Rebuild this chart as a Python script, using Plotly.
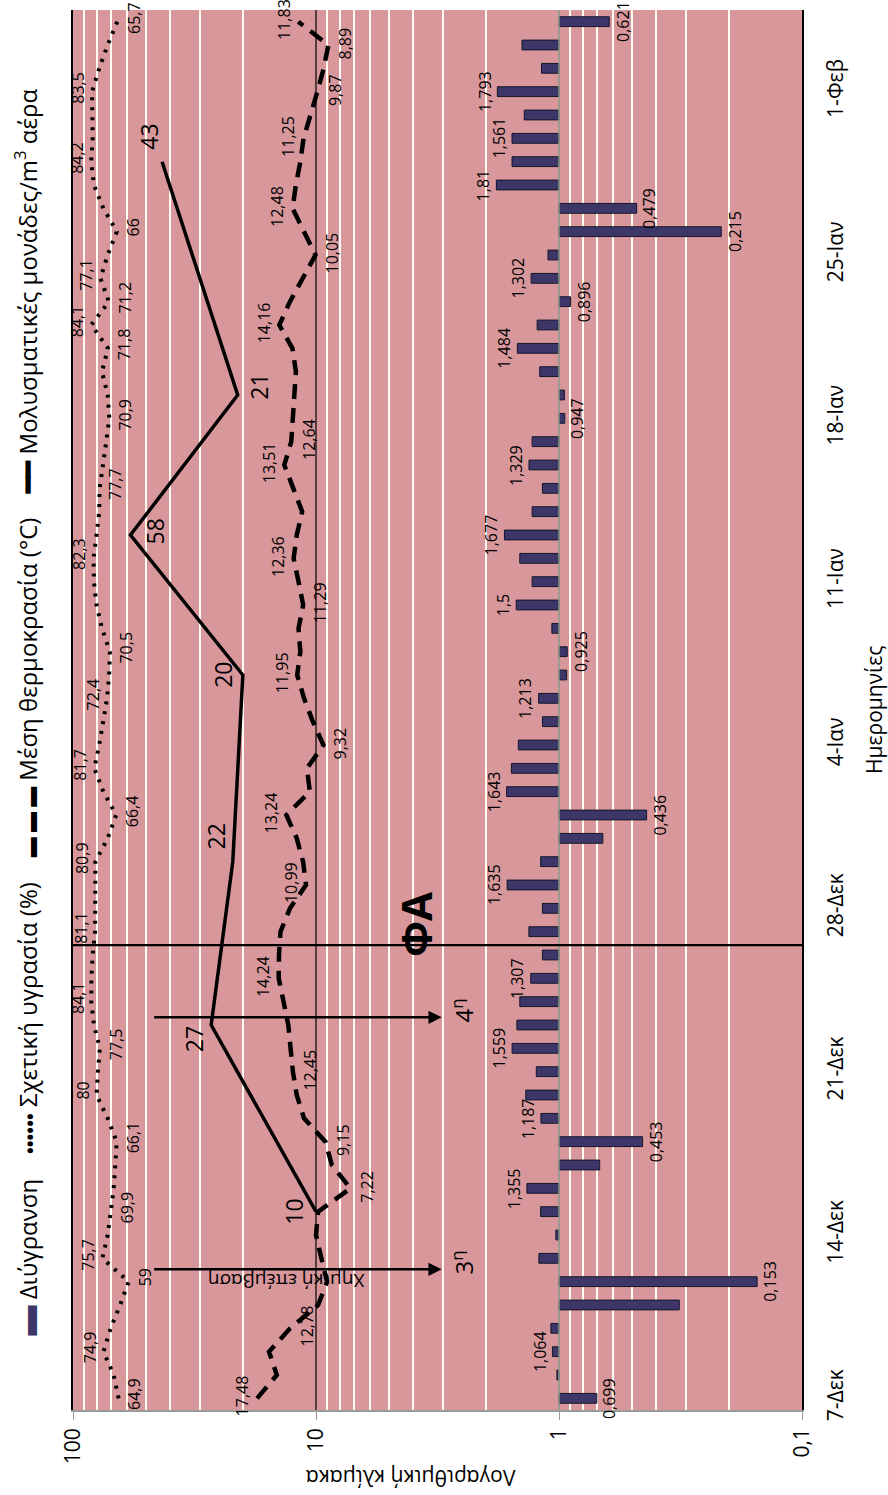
import math
import plotly.graph_objects as go

# ---- data (day index 0 = 7 Dec) -------------------------------------------
days = list(range(60))
date_tick_days = [0, 7, 14, 21, 28, 35, 42, 49, 56]
date_tick_labels = ["7-Δεκ", "14-Δεκ", "21-Δεκ", "28-Δεκ", "4-Ιαν",
                    "11-Ιαν", "18-Ιαν", "25-Ιαν", "1-Φεβ"]

value_ticks = [100, 10, 1, 0.1]
value_tick_labels = ["100", "10", "1", "0,1"]

# Διύγρανση (daily bars, drawn from a base of 1)
dehumidification = [
    0.699, 1.02, 1.064, 1.08, 0.32, 0.153, 1.21, 1.03, 1.19, 1.355,
    0.68, 0.453, 1.187, 1.37, 1.24, 1.559, 1.49, 1.45, 1.307, 1.17,
    1.33, 1.17, 1.635, 1.19, 0.66, 0.436, 1.643, 1.57, 1.47, 1.17,
    1.213, 0.93, 0.925, 1.07, 1.5, 1.29, 1.45, 1.677, 1.29, 1.17,
    1.329, 1.29, 0.947, 0.95, 1.2, 1.484, 1.23, 0.896, 1.302, 1.11,
    0.215, 0.479, 1.81, 1.56, 1.561, 1.39, 1.793, 1.18, 1.42, 0.621,
]

# Σχετική υγρασία (%)
humidity = [
    64.9, 68, 74.9, 70, 64, 59, 75.7, 72, 69.9, 68,
    67, 66.1, 72, 80, 79, 77.5, 82, 84.1, 84, 83,
    81.1, 81, 80.5, 80.9, 72, 66.4, 75, 81.7, 78, 75,
    72.4, 71, 70.5, 76, 80, 82, 82.3, 80, 78, 77.7,
    75, 73, 70.9, 72, 76, 71.8, 84.1, 71.2, 77.1, 72,
    66, 75, 82, 84.2, 83, 83, 83.5, 78, 72, 65.7,
]

# Μέση θερμοκρασία (°C)
temperature = [
    17.48, 14.5, 15.6, 12.78, 9.8, 9.0, 9.5, 10.0, 9.8, 7.22,
    8.6, 9.15, 11.2, 12.0, 12.45, 12.7, 13.0, 13.6, 14.24, 14.2,
    14.0, 12.8, 10.99, 11.3, 12.0, 13.24, 10.6, 10.9, 9.32, 10.3,
    11.2, 11.95, 11.6, 11.8, 11.29, 11.8, 12.36, 12.0, 11.4, 12.4,
    13.51, 12.64, 12.5, 12.3, 12.1, 12.5, 14.16, 12.8, 11.3, 10.05,
    11.2, 12.48, 12.1, 11.6, 11.25, 10.5, 9.87, 9.3, 8.89, 11.83,
]

# Μολυσματικές μονάδες/m3 αέρα (sampling days only)
infection_days = [8, 16, 23, 31, 37, 43, 53]
infection_units = [10, 27, 22, 20, 58, 21, 43]

# which points carry a value label, and on which side of the line
bar_label_days = [0, 2, 5, 9, 11, 12, 15, 18, 22, 25, 26, 30, 32, 34, 37,
                  40, 42, 45, 47, 48, 50, 51, 52, 54, 56, 59]
humidity_label_side = {0: "R", 2: "L", 5: "R", 6: "L", 8: "R", 11: "R",
                       13: "L", 15: "R", 17: "L", 20: "L", 23: "L", 25: "R",
                       27: "L", 30: "L", 32: "R", 36: "L", 39: "R", 42: "R",
                       45: "R", 46: "L", 47: "R", 48: "L", 50: "R", 53: "L",
                       56: "L", 59: "R"}
temperature_label_side = {0: "L", 3: "R", 9: "R", 11: "R", 14: "R", 18: "L",
                          22: "L", 25: "L", 28: "R", 31: "L", 34: "R",
                          36: "L", 40: "L", 41: "R", 46: "L", 49: "R",
                          51: "L", 54: "L", 56: "R", 58: "R", 59: "L"}
# pixel offsets (x, y) of the infection labels
infection_label_offset = {8: (-22, 0), 16: (-17, -14), 23: (-17, 25),
                          31: (-20, 0), 37: (25, 4), 43: (21, 8), 53: (-13, 25)}

# event markers (day positions)
treatment_days = [5.53, 16.33]
treatment_labels = ["3<sup>η</sup>", "4<sup>η</sup>"]
phase_day = 19.42

# ---- style -------------------------------------------------------------------
FONT = "Open Sans"
PINK = "#D8979B"
BAR = "#3C3768"
W, H = 888, 1495
L, R, T, B = 72.5, 86, 10, 85
PW, PH = W - L - R, H - T - B


def fmt(v):
    return ("%g" % v).replace(".", ",")


def lg(v):
    return math.log10(v)


def px_to_paper(px, py):
    return (px - L) / PW, (H - B - py) / PH


fig = go.Figure()

# bars from 1 to the value
fig.add_trace(go.Bar(
    y=days, x=[v - 1 for v in dehumidification], base=1, orientation="h",
    width=0.42, marker=dict(color=BAR, line=dict(color="#15152a", width=1)),
    name="Διύγρανση", hoverinfo="skip"))

# reference lines at 10 and 1
fig.add_trace(go.Scatter(x=[10, 10], y=[-0.5, 59.5], mode="lines",
                         line=dict(color="black", width=1.2), hoverinfo="skip"))
fig.add_trace(go.Scatter(x=[1, 1], y=[-0.5, 59.5], mode="lines",
                         line=dict(color="#8a9a8a", width=1.5), hoverinfo="skip"))

fig.add_trace(go.Scatter(x=humidity, y=days, mode="lines",
                         line=dict(color="black", width=4, dash="3px,7px"),
                         name="Σχετική υγρασία (%)", hoverinfo="skip"))
fig.add_trace(go.Scatter(x=temperature, y=days, mode="lines",
                         line=dict(color="black", width=4.5, dash="15px,9px"),
                         name="Μέση θερμοκρασία (°C)", hoverinfo="skip"))
fig.add_trace(go.Scatter(x=infection_units, y=infection_days, mode="lines",
                         line=dict(color="black", width=3.5),
                         name="Μολυσματικές μονάδες/m³ αέρα", hoverinfo="skip"))

# phase boundary line
fig.add_trace(go.Scatter(x=[100, 0.1], y=[phase_day, phase_day], mode="lines",
                         line=dict(color="black", width=2.2), hoverinfo="skip",
                         cliponaxis=False))

ann = []
lab_font = dict(family=FONT, size=16, color="black")
for d in bar_label_days:
    v = dehumidification[d]
    ann.append(dict(x=lg(v), y=d, text=fmt(v), textangle=-90, showarrow=False,
                    xshift=-13 if v > 1 else 13, font=lab_font))
for d, s in humidity_label_side.items():
    v = humidity[d]
    ann.append(dict(x=lg(v), y=d, text=fmt(v), textangle=-90, showarrow=False,
                    xshift=-14 if s == "L" else 16, yshift=4, font=lab_font))
for d, s in temperature_label_side.items():
    v = temperature[d]
    ann.append(dict(x=lg(v), y=d, text=fmt(v), textangle=-90, showarrow=False,
                    xshift=-15 if s == "L" else 17, yshift=2, font=lab_font))
for d, v in zip(infection_days, infection_units):
    dx, dy = infection_label_offset[d]
    ann.append(dict(x=lg(v), y=d, text=str(v), textangle=-90, showarrow=False,
                    xshift=dx, yshift=dy,
                    font=dict(family=FONT, size=23, color="black")))

# chemical treatment arrows
for d, t in zip(treatment_days, treatment_labels):
    ann.append(dict(x=lg(3.04), y=d, ax=lg(47), ay=d, axref="x", ayref="y",
                    text="", showarrow=True, arrowhead=2, arrowsize=1.1,
                    arrowwidth=2.4, arrowcolor="black"))
    ann.append(dict(x=lg(2.5), y=d + 0.3, text=t, textangle=-90, showarrow=False,
                    font=dict(family=FONT, size=24, color="black")))
ann.append(dict(x=lg(13.2), y=5.0, text="Χημική επέμβαση", textangle=180,
                showarrow=False, font=dict(family=FONT, size=19, color="black")))
ann.append(dict(x=lg(3.9), y=20.3, text="<b>ΦΑ</b>", textangle=-90,
                showarrow=False, font=dict(family=FONT, size=42, color="black")))

# axis titles
x0, y0 = px_to_paper(410, 1478)
ann.append(dict(xref="paper", yref="paper", x=x0, y=y0, xanchor="center",
                yanchor="middle", text="Λογαριθμική κλίμακα", textangle=180,
                showarrow=False, font=dict(family=FONT, size=21, color="black")))
x0, y0 = px_to_paper(874, 710)
ann.append(dict(xref="paper", yref="paper", x=x0, y=y0, xanchor="center",
                yanchor="middle", text="Ημερομηνίες", textangle=-90,
                showarrow=False, font=dict(family=FONT, size=21, color="black")))

# legend, running up the left edge
GAP = "&nbsp;" * 4
legend_text = (
    f'<span style="color:{BAR};font-size:30px">▬</span>&nbsp;Διύγρανση{GAP}'
    '<span style="font-size:18px"><b>••••••</b></span>&nbsp;Σχετική υγρασία (%)'
    + GAP +
    '<span style="font-size:20px"><b>▬ ▬ ▬</b></span>&nbsp;Μέση θερμοκρασία (°C)'
    + GAP +
    '<span style="font-size:26px"><b>━━</b></span>&nbsp;Μολυσματικές μονάδες/m<sup>3</sup> αέρα'
)
x0, y0 = px_to_paper(24, 712)
ann.append(dict(xref="paper", yref="paper", x=x0, y=y0, xanchor="center",
                yanchor="middle", text=legend_text, textangle=-90,
                showarrow=False, font=dict(family=FONT, size=24, color="black")))

minor_vals = [m * 10 ** e for e in (-1, 0, 1) for m in range(2, 10)]

fig.update_layout(
    width=W, height=H, margin=dict(l=L, r=R, t=T, b=B, autoexpand=False),
    paper_bgcolor="white", plot_bgcolor=PINK, showlegend=False,
    bargap=0.5, annotations=ann,
    font=dict(family=FONT, color="black"),
    xaxis=dict(type="log", range=[2, -1], tickvals=value_ticks,
               ticktext=value_tick_labels, tickangle=-90,
               tickfont=dict(family=FONT, size=21, color="black"),
               ticks="outside", ticklen=8, tickcolor="#999",
               showgrid=False, zeroline=False,
               showline=True, linecolor="#9a9a9a", linewidth=1.5,
               minor=dict(tickvals=minor_vals, showgrid=True,
                          gridcolor="#fffaf2", gridwidth=1.6, ticks="")),
    yaxis=dict(range=[-0.5, 59.5], tickvals=date_tick_days,
               ticktext=date_tick_labels, tickangle=-90, side="right",
               tickfont=dict(family=FONT, size=21, color="black"),
               ticklabelstandoff=14,
               showgrid=False, zeroline=False, ticks="",
               showline=True, mirror=True, linecolor="black", linewidth=2.2),
)

fig.write_html("out.html")
